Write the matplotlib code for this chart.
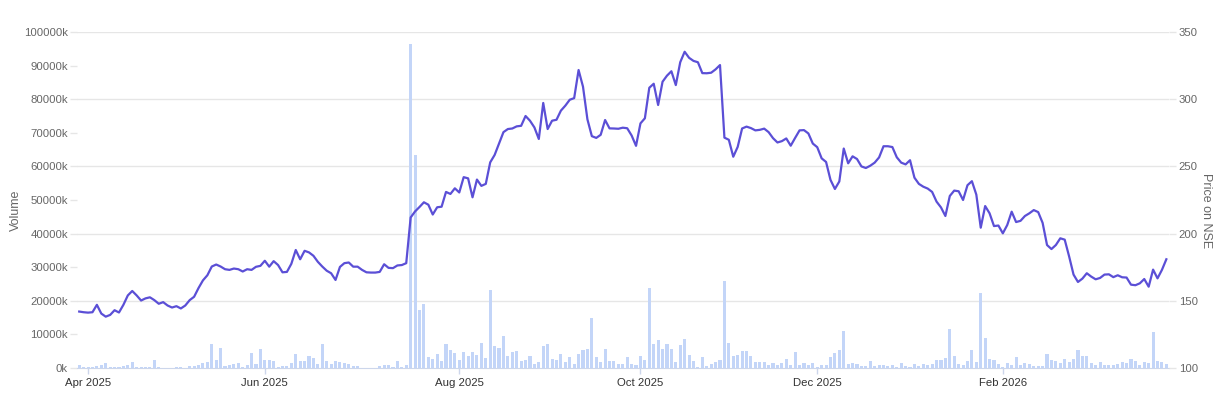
import numpy as np
import pandas as pd
import matplotlib
matplotlib.use("Agg")
import matplotlib.pyplot as plt

plt.rcParams['font.family'] = ['Liberation Sans', 'DejaVu Sans']

# NSE trading days, one year (holidays removed)
holidays = ['2025-03-31', '2025-04-10', '2025-04-14', '2025-04-18', '2025-05-01',
            '2025-08-15', '2025-08-27', '2025-10-02', '2025-10-22', '2025-11-05',
            '2025-12-25', '2026-01-15', '2026-01-26', '2026-03-03', '2026-03-26']

# closing price (INR)
price = [
    142, 141.5, 141.2, 141.5, 147, 140.5, 138.2, 139.5, 143, 141.3,
    147, 154, 157.3, 154, 150.2, 151.8, 152.6, 150.5, 147.8, 149,
    146.5, 145, 146, 144.3, 146.5, 150.5, 153, 159.5, 165.2, 169,
    175.5, 177, 175.5, 173.5, 173, 174, 173.5, 171.8, 173.5, 173,
    175.3, 176, 179.8, 175.4, 179.5, 176.6, 171.2, 171.5, 177.5, 187.8,
    180.9, 187.2, 186, 183.5, 179, 175.5, 172.4, 170.5, 165.5, 175.2,
    178, 178.5, 175.4, 175.4, 173, 171.2, 171, 171, 171.5, 177.2,
    174.5, 174.3, 176.3, 176.6, 178, 212, 216.5, 219.8, 223.3, 221.5,
    214.2, 219.6, 220, 231, 229.5, 233.7, 230.6, 242, 241.1, 227,
    240.2, 235.5, 237, 253, 258.5, 267, 275.5, 277.8, 278.2, 279.8,
    280.2, 287.5, 284, 279, 270.4, 297.2, 277.8, 284, 284.7, 291.5,
    295.2, 299.6, 300.8, 321.7, 309.3, 285, 272.5, 271.2, 273.5, 284.5,
    278.3, 278.2, 278, 278.8, 278.4, 273, 265.3, 282, 285.8, 308.5,
    311.5, 295.7, 313, 317.5, 320.8, 310.5, 327.5, 335.3, 330.8, 328.5,
    327.5, 319.4, 319.3, 319.7, 322.2, 325.4, 271.4, 269.8, 257.2, 264.5,
    278.2, 279.6, 278.5, 276.8, 277.2, 278.1, 275.5, 271, 267.8, 268.8,
    270.8, 265.4, 271.2, 276.8, 277, 274.5, 267, 264.3, 256, 253.3,
    240, 233.2, 238.8, 263.3, 252.3, 257.5, 255.5, 250, 248.8, 250.5,
    252.8, 256.7, 265, 265, 264.4, 256.8, 252.8, 251.5, 254.6, 241.6,
    237, 234.9, 233.5, 231, 223.8, 219.5, 213.1, 228, 232, 231.5,
    225, 236, 239, 229, 204.4, 220.5, 215.1, 205.6, 206, 200.2,
    206.4, 216.3, 208.6, 209.5, 213.1, 215.1, 217.5, 216, 208, 191.5,
    188.5, 191.5, 196.5, 195.5, 183, 169.5, 164, 166.5, 170.5, 168,
    166, 167, 169.5, 169.7, 167.6, 169, 167.5, 167.3, 162, 161.6,
    163, 166.2, 160.5, 173.2, 166.7, 173, 180.9,
]

# traded volume, thousands of shares
volume_k = [
    800, 200, 400, 200, 600, 800, 1500, 200, 400, 400,
    600, 800, 1800, 200, 200, 200, 200, 2500, 300, 100,
    100, 100, 200, 200, 100, 700, 700, 800, 1600, 1800,
    7100, 2500, 6000, 600, 800, 1200, 1500, 300, 1000, 4500,
    1200, 5800, 2500, 2500, 2000, 300, 600, 700, 1500, 4200,
    2000, 2000, 3500, 3000, 1200, 7100, 2000, 1200, 2200, 1800,
    1400, 1200, 600, 500, 100, 100, 100, 100, 600, 1000,
    1000, 300, 2200, 300, 800, 96400, 63400, 17400, 19000, 3200,
    2700, 4200, 2000, 7100, 5500, 4500, 2500, 4800, 3500, 4800,
    4000, 7400, 3000, 23300, 6400, 6000, 9400, 3700, 4800, 5000,
    2200, 2500, 3500, 1200, 1800, 6400, 7100, 2800, 2500, 4200,
    1800, 3300, 1200, 4300, 5500, 5800, 14900, 3200, 1800, 5700,
    2000, 2200, 1200, 1200, 3200, 1200, 1000, 3700, 2500, 23800,
    7100, 8400, 5700, 7100, 5700, 1800, 6700, 8600, 3800, 2000,
    200, 3200, 500, 1200, 1800, 2300, 25900, 7400, 3500, 4000,
    5000, 5200, 3500, 1800, 1800, 1700, 800, 1500, 1000, 1400,
    2800, 1000, 4800, 1000, 1500, 800, 1500, 200, 800, 800,
    3200, 4500, 5500, 10900, 1200, 1500, 1200, 700, 700, 2000,
    500, 800, 1000, 700, 1000, 400, 1500, 500, 200, 1200,
    700, 1200, 800, 1200, 2300, 2300, 3000, 11600, 3500, 1200,
    1000, 2200, 5500, 1800, 22300, 8900, 2700, 2400, 1200, 300,
    1500, 1000, 3200, 800, 1500, 1200, 500, 500, 500, 4200,
    2300, 2000, 1500, 2700, 1800, 2800, 5400, 3500, 3500, 1500,
    800, 1800, 1000, 1000, 800, 1200, 1800, 1500, 2700, 2000,
    1000, 1800, 1500, 10600, 2000, 1800, 1200,
]

dates = pd.bdate_range('2025-03-27', '2026-04-30')
dates = dates[~dates.isin(pd.to_datetime(holidays))][:len(price)]
x = np.arange(len(price))

# ticks at first trading day of every second month
tick_idx, tick_lbl = [], []
for i in range(1, len(dates)):
    if dates[i].month != dates[i - 1].month and dates[i].month % 2 == 0:
        tick_idx.append(i)
        tick_lbl.append(dates[i].strftime('%b %Y'))

W, H = 1228, 399
fig = plt.figure(figsize=(W / 100, H / 100), dpi=100)
ax = fig.add_axes([77 / W, 31 / H, 1092 / W, 336 / H])

grey = '#666666'
for v in range(20000, 100001, 20000):
    ax.axhline(v, color='#e6e6e6', lw=1, zorder=0)

ax.bar(x, volume_k, width=0.7, color='#c3d5f8', zorder=2)
ax.set_xlim(-0.5, 246.6)
ax.set_ylim(0, 100000)
ax.set_yticks(np.arange(0, 100001, 10000))
ax.set_yticklabels([f"{v}k" for v in range(0, 100001, 10000)])
ax.set_xticks(tick_idx)
ax.set_xticklabels(tick_lbl)
ax.tick_params(axis='y', length=5, width=1, color='#e6e6e6', labelsize=8.2,
               labelcolor=grey, pad=1.5)
ax.tick_params(axis='x', length=4, width=1, color='#ccd6eb', labelsize=8.2,
               labelcolor='#333333', pad=3)
for s in ['top', 'left', 'right']:
    ax.spines[s].set_visible(False)
ax.spines['bottom'].set_color('#ccd6eb')
ax.set_ylabel('Volume', color=grey, fontsize=9)
ax.yaxis.set_label_coords(-0.050, 0.47)

ax2 = ax.twinx()
ax2.plot(x, price, color='#5b4fd6', lw=1.6, solid_joinstyle='round', zorder=3)
ax2.set_ylim(100, 350)
ax2.set_yticks(range(100, 351, 50))
ax2.tick_params(axis='y', length=5, width=1, color='#e6e6e6', labelsize=8.2,
                labelcolor=grey, pad=2)
for s in ax2.spines.values():
    s.set_visible(False)
ax2.set_ylabel('Price on NSE', color=grey, fontsize=9, rotation=270)
ax2.yaxis.set_label_coords(1.039, 0.47)

fig.savefig('out.png', dpi=100)
